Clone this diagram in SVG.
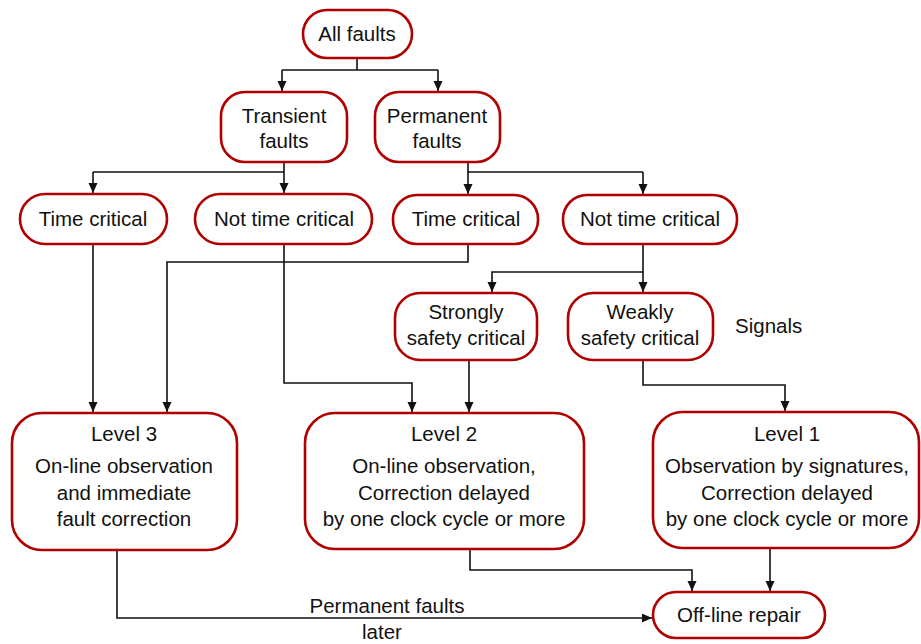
<svg xmlns="http://www.w3.org/2000/svg" width="921" height="644" viewBox="0 0 921 644">
<style>
.n{fill:#fff;stroke:#b00000;stroke-width:2.6}
.t{font-family:"Liberation Sans",Arial,sans-serif;font-size:20.5px;fill:#111;text-anchor:middle}
.c{fill:none;stroke:#111;stroke-width:1.6}
</style>
<defs>
<marker id="ah" markerWidth="10" markerHeight="10" refX="10" refY="4.5" orient="auto" markerUnits="userSpaceOnUse">
<path d="M0,0 L10,4.5 L0,9 z" fill="#111"/>
</marker>
</defs>
<rect width="921" height="644" fill="#fff"/>
<g id="connectors">
<path class="c" d="M357 58 V70 M282 70 H438"/>
<path class="c" d="M282 70 V91" marker-end="url(#ah)"/>
<path class="c" d="M438 70 V91" marker-end="url(#ah)"/>
<path class="c" d="M284 162 V172 M93 172 H284"/>
<path class="c" d="M93 172 V193" marker-end="url(#ah)"/>
<path class="c" d="M284 172 V193" marker-end="url(#ah)"/>
<path class="c" d="M468 162 V172 H643"/>
<path class="c" d="M468 172 V194" marker-end="url(#ah)"/>
<path class="c" d="M643 172 V194" marker-end="url(#ah)"/>
<path class="c" d="M93 244 V412" marker-end="url(#ah)"/>
<path class="c" d="M468 244 V262 H167 V412" marker-end="url(#ah)"/>
<path class="c" d="M284 244 V383 H412 V412" marker-end="url(#ah)"/>
<path class="c" d="M643 244 V272 H492 V292" marker-end="url(#ah)"/>
<path class="c" d="M643 272 V292" marker-end="url(#ah)"/>
<path class="c" d="M469 360 V412" marker-end="url(#ah)"/>
<path class="c" d="M643 360 V385 H785 V411" marker-end="url(#ah)"/>
<path class="c" d="M470 549 V570 H692 V591" marker-end="url(#ah)"/>
<path class="c" d="M770 548 V591" marker-end="url(#ah)"/>
<path class="c" d="M117 550 V618 H652" marker-end="url(#ah)"/>
<text class="t" x="387" y="613">Permanent faults</text>
<text class="t" x="382" y="639">later</text>
</g>
<g id="all"><rect class="n" x="303" y="10" width="109" height="48" rx="24"/><text class="t" x="357" y="41">All faults</text></g>
<g id="transient"><rect class="n" x="221" y="92" width="126" height="70" rx="24"/><text class="t" x="284" y="123">Transient</text><text class="t" x="284" y="148">faults</text></g>
<g id="permanent"><rect class="n" x="375" y="92" width="125" height="70" rx="24"/><text class="t" x="437" y="123">Permanent</text><text class="t" x="437" y="148">faults</text></g>
<g id="tc1"><rect class="n" x="20" y="194" width="147" height="50" rx="25"/><text class="t" x="93" y="226">Time critical</text></g>
<g id="ntc1"><rect class="n" x="195" y="194" width="177" height="50" rx="25"/><text class="t" x="284" y="226">Not time critical</text></g>
<g id="tc2"><rect class="n" x="393" y="195" width="145" height="49" rx="24"/><text class="t" x="466" y="226">Time critical</text></g>
<g id="ntc2"><rect class="n" x="563" y="195" width="174" height="49" rx="24"/><text class="t" x="650" y="226">Not time critical</text></g>
<g id="strong"><rect class="n" x="395" y="293" width="142" height="67" rx="25"/><text class="t" x="466" y="319">Strongly</text><text class="t" x="466" y="345">safety critical</text></g>
<g id="weak"><rect class="n" x="568" y="293" width="145" height="67" rx="25"/><text class="t" x="640" y="319">Weakly</text><text class="t" x="640" y="345">safety critical</text></g>
<g id="signals"><text class="t" x="735" y="333" style="text-anchor:start">Signals</text></g>
<g id="level3"><rect class="n" x="12" y="413" width="225" height="137" rx="30"/><text class="t" x="124" y="441">Level 3</text><text class="t" x="124" y="473">On-line observation</text><text class="t" x="124" y="500">and immediate</text><text class="t" x="124" y="526">fault correction</text></g>
<g id="level2"><rect class="n" x="305" y="413" width="279" height="136" rx="30"/><text class="t" x="444" y="441">Level 2</text><text class="t" x="444" y="473">On-line observation,</text><text class="t" x="444" y="500">Correction delayed</text><text class="t" x="444" y="526">by one clock cycle or more</text></g>
<g id="level1"><rect class="n" x="653" y="412" width="266" height="136" rx="30"/><text class="t" x="787" y="441">Level 1</text><text class="t" x="787" y="473">Observation by signatures,</text><text class="t" x="787" y="500">Correction delayed</text><text class="t" x="787" y="526">by one clock cycle or more</text></g>
<g id="offline"><rect class="n" x="653" y="592" width="172" height="46" rx="23"/><text class="t" x="739" y="622">Off-line repair</text></g>
</svg>
